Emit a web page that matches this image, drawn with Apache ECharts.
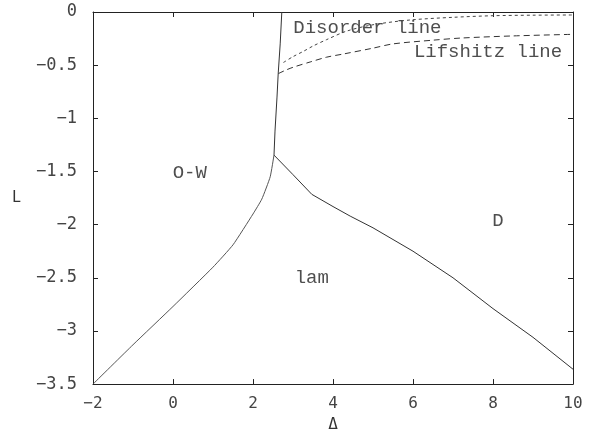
<!DOCTYPE html>
<html>
<head>
<meta charset="utf-8">
<script src="https://cdn.jsdelivr.net/npm/echarts@6/dist/echarts.min.js"></script>
<style>html,body{margin:0;padding:0;background:#fff}#c{width:590px;height:438px}</style>
</head>
<body>
<div id="c"></div>
<script>
// O-W / lam boundary (lower-left curve)
const owLamX = [-2, -1, 0, 1, 1.5, 2, 2.22, 2.43, 2.525];
const owLamY = [-3.5, -3.13, -2.77, -2.4, -2.19, -1.9, -1.76, -1.55, -1.346];
// O-W / D boundary (nearly vertical)
const owDX = [2.525, 2.55, 2.6, 2.63, 2.68, 2.72];
const owDY = [-1.346, -1.12, -0.8, -0.58, -0.3, 0];
// lam / D boundary
const lamDX = [2.525, 3.0, 3.47, 4.0, 4.43, 5.0, 6.0, 7.0, 8.0, 9.0, 10.0];
const lamDY = [-1.346, -1.53, -1.715, -1.83, -1.92, -2.03, -2.25, -2.50, -2.79, -3.06, -3.36];
// Disorder line
const disX = [2.76, 3.0, 3.26, 3.5, 3.84, 4.34, 5.0, 5.93, 7.0, 8.0, 9.0, 10.0];
const disY = [-0.475, -0.42, -0.37, -0.32, -0.26, -0.18, -0.12, -0.075, -0.05, -0.035, -0.03, -0.028];
// Lifshitz line
const lifX = [2.63, 2.8, 3.0, 3.43, 3.84, 4.26, 5.0, 5.5, 6.5, 7.2, 8.5, 10.0];
const lifY = [-0.58, -0.55, -0.52, -0.47, -0.425, -0.395, -0.34, -0.30, -0.265, -0.245, -0.225, -0.21];
// Axis ticks
const xTicks = [-2, 0, 2, 4, 6, 8, 10];
const yTicks = [0, -0.5, -1, -1.5, -2, -2.5, -3, -3.5];
// Annotations: [x, y, text]
const annotations = [
  [0.42, -1.51, 'O-W'],
  [3.47, -2.505, 'lam'],
  [8.125, -1.97, 'D'],
  [4.86, -0.148, 'Disorder line'],
  [7.875, -0.38, 'Lifshitz line']
];

const zip = (xs, ys) => xs.map((x, i) => [x, ys[i]]);
const monoFont = '"Liberation Mono", "DejaVu Sans Mono", monospace';
const tickFont = '"DejaVu Sans Mono", "Liberation Mono", monospace';

const chart = echarts.init(document.getElementById('c'), null, {renderer: 'canvas'});
const axisLineStyle = {show: true, onZero: false, lineStyle: {color: '#222', width: 1}};
const tickStyle = {show: true, inside: true, length: 5, lineStyle: {color: '#222'}};
const option = {
  animation: false,
  backgroundColor: '#fff',
  grid: {left: 93, right: 17, top: 12, bottom: 48},
  xAxis: [{
    type: 'value', min: -2, max: 10, interval: 2, position: 'bottom',
    name: 'Δ', nameLocation: 'middle', nameGap: 26,
    nameTextStyle: {fontFamily: tickFont, fontSize: 16, color: '#333'},
    axisLine: axisLineStyle, axisTick: tickStyle,
    axisLabel: {show: true, margin: 12, fontFamily: tickFont, fontSize: 16, color: '#444',
      formatter: v => (xTicks.indexOf(v) >= 0 ? String(v).replace('-', '−') : '')},
    splitLine: {show: false}
  }, {
    type: 'value', min: -2, max: 10, interval: 2, position: 'top',
    axisLine: axisLineStyle, axisTick: tickStyle,
    axisLabel: {show: false}, splitLine: {show: false}
  }],
  yAxis: [{
    type: 'value', min: -3.5, max: 0, interval: 0.5, position: 'left',
    name: 'L', nameLocation: 'middle', nameGap: 72, nameRotate: 0,
    nameTextStyle: {fontFamily: tickFont, fontSize: 15, color: '#333'},
    axisLine: axisLineStyle, axisTick: tickStyle,
    axisLabel: {show: true, margin: 16, fontFamily: tickFont, fontSize: 17, color: '#444',
      formatter: v => (yTicks.indexOf(v) >= 0 ? String(v).replace('-', '−') : '')},
    splitLine: {show: false}
  }, {
    type: 'value', min: -3.5, max: 0, interval: 0.5, position: 'right',
    axisLine: axisLineStyle, axisTick: tickStyle,
    axisLabel: {show: false}, splitLine: {show: false}
  }],
  series: [
    {type: 'line', data: zip(owLamX, owLamY), showSymbol: false, smooth: 0.15,
      lineStyle: {color: '#555', width: 1}},
    {type: 'line', data: zip(owDX, owDY), showSymbol: false,
      lineStyle: {color: '#333', width: 1}},
    {type: 'line', data: zip(lamDX, lamDY), showSymbol: false,
      lineStyle: {color: '#333', width: 1}},
    {type: 'line', data: zip(disX, disY), showSymbol: false, smooth: 0.3,
      lineStyle: {color: '#444', width: 1, type: [3, 3]}},
    {type: 'line', data: zip(lifX, lifY), showSymbol: false, smooth: 0.3,
      lineStyle: {color: '#333', width: 1, type: [6, 4]}},
    {type: 'scatter', symbolSize: 0, silent: true,
      data: annotations.map(a => ({value: [a[0], a[1]], name: a[2]})),
      label: {show: true, position: 'inside', formatter: p => p.name,
        fontFamily: monoFont, fontSize: 19, color: '#222'}}
  ]
};
chart.setOption(option);
</script>
</body>
</html>
